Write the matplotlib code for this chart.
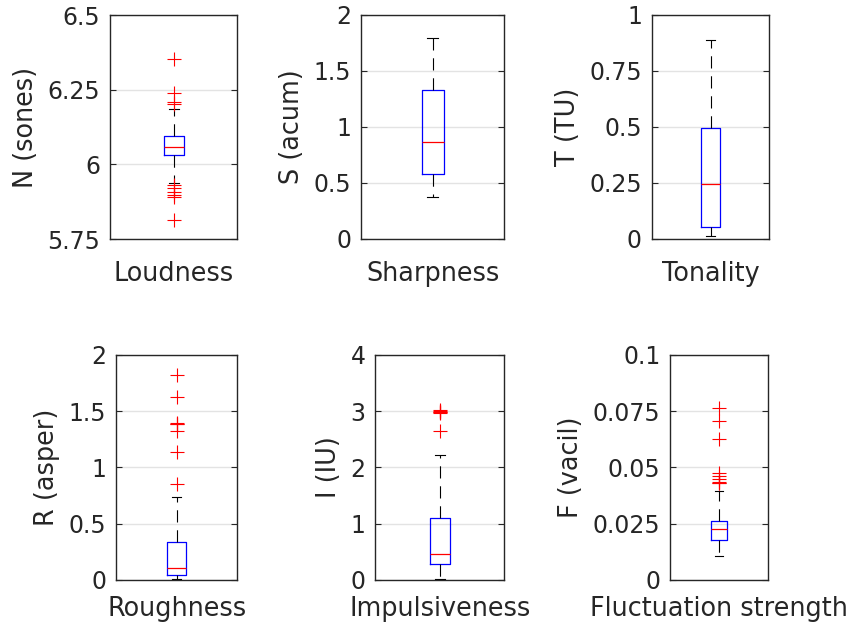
import matplotlib
matplotlib.use('Agg')
import matplotlib.pyplot as plt
from matplotlib.ticker import FuncFormatter

# ---- data ----
categories = ['Loudness', 'Sharpness', 'Tonality',
              'Roughness', 'Impulsiveness', 'Fluctuation strength']
ylabels = ['N (sones)', 'S (acum)', 'T (TU)', 'R (asper)', 'I (IU)', 'F (vacil)']
medians = [6.057, 0.869, 0.244, 0.108, 0.463, 0.0226]
q1 = [6.031, 0.583, 0.054, 0.039, 0.285, 0.0175]
q3 = [6.095, 1.330, 0.494, 0.333, 1.104, 0.0263]
whisker_low = [5.936, 0.378, 0.013, 0.010, 0.012, 0.0104]
whisker_high = [6.184, 1.792, 0.887, 0.739, 2.211, 0.0395]
outliers_loudness = [6.353, 6.238, 6.210, 6.202, 5.930, 5.922, 5.908, 5.897, 5.891, 5.814]
outliers_sharpness = []
outliers_tonality = []
outliers_roughness = [1.825, 1.629, 1.397, 1.390, 1.383, 1.323, 1.139, 0.852]
outliers_impulsiveness = [3.02, 3.00, 2.99, 2.98, 2.97, 2.645]
outliers_fluctuation = [0.0762, 0.0706, 0.0628, 0.0475, 0.0463, 0.0450, 0.0437, 0.0432, 0.0429]
outliers = [outliers_loudness, outliers_sharpness, outliers_tonality,
            outliers_roughness, outliers_impulsiveness, outliers_fluctuation]
ylims = [(5.75, 6.5), (0, 2), (0, 1), (0, 2), (0, 4), (0, 0.1)]
yticks = [[5.75, 6, 6.25, 6.5], [0, 0.5, 1, 1.5, 2], [0, 0.25, 0.5, 0.75, 1],
          [0, 0.5, 1, 1.5, 2], [0, 1, 2, 3, 4], [0, 0.025, 0.05, 0.075, 0.1]]

# ---- layout (pixel boxes: left, right, top, bottom) ----
W, H = 851, 626
boxes_px = [(110, 237.3, 15, 239), (361, 504.3, 15, 239), (651.7, 769.3, 15, 239),
            (116, 237.3, 355, 579.7), (375.3, 504, 355, 579.7), (670, 768, 355, 579.7)]
label_pads = [16, 16, 16, 12, 12, 12]

plt.rcParams['font.family'] = ['DejaVu Sans']
fig = plt.figure(figsize=(W / 100, H / 100), dpi=100)
fig.patch.set_facecolor('white')

axis_color = '#262626'
fmt = FuncFormatter(lambda v, p: '%g' % v)

for i in range(6):
    l, r, t, b = boxes_px[i]
    ax = fig.add_axes([l / W, 1 - b / H, (r - l) / W, (b - t) / H])
    stats = [dict(med=medians[i], q1=q1[i], q3=q3[i],
                  whislo=whisker_low[i], whishi=whisker_high[i],
                  fliers=outliers[i], label=categories[i])]
    ax.bxp(stats, positions=[1], widths=0.155, showfliers=True,
           boxprops=dict(color='#0000ff', linewidth=0.9),
           medianprops=dict(color='#ff0000', linewidth=0.9),
           whiskerprops=dict(color='black', linewidth=0.8, linestyle=(0, (11, 7))),
           capprops=dict(color='black', linewidth=0.8),
           capwidths=0.155 / 2,
           flierprops=dict(marker='+', markeredgecolor='#ff0000', markersize=10,
                           markeredgewidth=0.8, linestyle='none'))
    ax.set_xlim(0.5, 1.5)
    ax.set_ylim(*ylims[i])
    ax.set_yticks(yticks[i])
    ax.yaxis.set_major_formatter(fmt)
    ax.set_xticks([1])
    ax.set_xticklabels([categories[i]], fontsize=18.4, color=axis_color)
    ax.tick_params(axis='x', length=0, pad=label_pads[i])
    ax.tick_params(axis='y', direction='in', length=4, width=0.8, right=True,
                   labelsize=17, labelcolor=axis_color, color=axis_color, pad=7)
    ax.set_ylabel(ylabels[i], fontsize=18.4, color=axis_color, labelpad=6)
    ax.yaxis.grid(True, color='#e3e3e3', linewidth=1.0)
    ax.set_axisbelow(True)
    for s in ax.spines.values():
        s.set_color(axis_color)
        s.set_linewidth(1.0)

fig.savefig('out.png', dpi=100, facecolor='white')
